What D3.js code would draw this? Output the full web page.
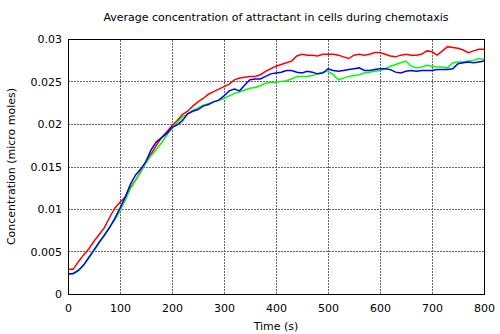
<!DOCTYPE html>
<html>
<head>
<meta charset="utf-8">
<script src="https://cdn.jsdelivr.net/npm/d3@7"></script>
<style>
    body { margin: 0; background: #fff; }
    text { font-family: "DejaVu Sans", sans-serif; }
</style>
</head>
<body>
<script>
// ================================================================================================
// Data (time every 10 s)

var times = d3.range(0, 801, 10);

var red_values = [
    0.0029, 0.0029, 0.0038, 0.0046, 0.0053, 0.0062, 0.0070, 0.0078, 0.0090, 0.0101,
    0.0108, 0.0114, 0.0125, 0.0134, 0.0144, 0.0155, 0.0165, 0.0175, 0.0184, 0.0191,
    0.0198, 0.0204, 0.0211, 0.0215, 0.0221, 0.0226, 0.0230, 0.0235, 0.0238, 0.0241,
    0.0244, 0.0247, 0.0252, 0.0254, 0.0255, 0.0256, 0.0256, 0.0258, 0.0262, 0.0265,
    0.0268, 0.0270, 0.0272, 0.0274, 0.0280, 0.0282, 0.0281, 0.0281, 0.0280, 0.0282,
    0.0282, 0.0282, 0.0281, 0.0279, 0.0277, 0.0281, 0.0282, 0.0281, 0.0282, 0.0284,
    0.0284, 0.0282, 0.0280, 0.0279, 0.0281, 0.0282, 0.0281, 0.0281, 0.0282, 0.0286,
    0.0285, 0.0281, 0.0286, 0.0291, 0.0290, 0.0289, 0.0287, 0.0284, 0.0286, 0.0288,
    0.0288
];

var green_values = [
    0.00235, 0.00238, 0.0027, 0.0034, 0.0042, 0.0051, 0.0060, 0.0070, 0.0079, 0.0087,
    0.0098, 0.0110, 0.0124, 0.0134, 0.0145, 0.0154, 0.0163, 0.0170, 0.0178, 0.0187,
    0.0195, 0.0202, 0.0208, 0.0212, 0.0216, 0.0219, 0.0222, 0.0224, 0.0226, 0.0228,
    0.0230, 0.0233, 0.0236, 0.0238, 0.0240, 0.0242, 0.0243, 0.0245, 0.0248, 0.0249,
    0.0249, 0.0250, 0.0251, 0.0253, 0.0256, 0.0256, 0.0256, 0.0257, 0.0259, 0.0261,
    0.0262, 0.0258, 0.0252, 0.0254, 0.0256, 0.0257, 0.0258, 0.0260, 0.0261, 0.0262,
    0.0263, 0.0265, 0.0268, 0.0270, 0.0272, 0.0274, 0.0268, 0.0266, 0.0267, 0.0269,
    0.0268, 0.0267, 0.0267, 0.0266, 0.0272, 0.0273, 0.0273, 0.0274, 0.0275, 0.0277,
    0.0276
];

var blue_values = [
    0.00235, 0.0024, 0.0028, 0.0034, 0.0043, 0.0052, 0.0061, 0.0069, 0.0078, 0.0089,
    0.0101, 0.0114, 0.0129, 0.0140, 0.0147, 0.0156, 0.0170, 0.0179, 0.0184, 0.0189,
    0.0196, 0.0199, 0.0204, 0.0212, 0.0215, 0.0217, 0.0221, 0.0223, 0.0226, 0.0228,
    0.0233, 0.0239, 0.0241, 0.0239, 0.0246, 0.0252, 0.0253, 0.0253, 0.0256, 0.0259,
    0.0260, 0.0261, 0.0263, 0.0263, 0.0261, 0.0260, 0.0262, 0.0261, 0.0259, 0.0260,
    0.0265, 0.0263, 0.0262, 0.0263, 0.0264, 0.0265, 0.0266, 0.0263, 0.0263, 0.0264,
    0.0265, 0.0265, 0.0264, 0.0261, 0.0260, 0.0262, 0.0263, 0.0262, 0.0263, 0.0263,
    0.0263, 0.0264, 0.0264, 0.0264, 0.0265, 0.0271, 0.0272, 0.0273, 0.0272, 0.0273,
    0.0274
];

var x_ticks = [0, 100, 200, 300, 400, 500, 600, 700, 800];
var y_ticks = [0, 0.005, 0.01, 0.015, 0.02, 0.025, 0.03];
var y_tick_labels = ['0', '0.005', '0.01', '0.015', '0.02', '0.025', '0.03'];

var series = [
    { name : 'red', color : '#ff0000', values : red_values },
    { name : 'green', color : '#00ff00', values : green_values },
    { name : 'blue', color : '#0000ff', values : blue_values }
];

// ================================================================================================
// Chart

var width = 500, height = 334;
var margin = { left : 68, right : 16, top : 39, bottom : 40 };

var svg = d3.select('body').append('svg')
    .attr('width', width)
    .attr('height', height);

var x = d3.scaleLinear()
    .domain([0, 800])
    .range([margin.left, width - margin.right]);

var y = d3.scaleLinear()
    .domain([0, 0.03])
    .range([height - margin.bottom, margin.top]);

// Grid
var grid = svg.append('g')
    .attr('stroke', '#666')
    .attr('stroke-width', 1)
    .attr('stroke-dasharray', '2,1');

grid.selectAll('line.vx')
    .data(x_ticks.slice(1, -1))
    .enter().append('line')
    .attr('x1', function (d) { return Math.round(x(d)) + 0.5; })
    .attr('x2', function (d) { return Math.round(x(d)) + 0.5; })
    .attr('y1', y(0))
    .attr('y2', y(0.03));

grid.selectAll('line.hy')
    .data(y_ticks.slice(1, -1))
    .enter().append('line')
    .attr('y1', function (d) { return Math.round(y(d)) + 0.5; })
    .attr('y2', function (d) { return Math.round(y(d)) + 0.5; })
    .attr('x1', x(0))
    .attr('x2', x(800));

// Axes
var x_axis = d3.axisBottom(x)
    .tickValues(x_ticks)
    .tickSize(0)
    .tickPadding(10);

var y_axis = d3.axisLeft(y)
    .tickValues(y_ticks)
    .tickFormat(function (d, i) { return y_tick_labels[i]; })
    .tickSize(0)
    .tickPadding(6);

svg.append('g')
    .attr('transform', 'translate(0,' + y(0) + ')')
    .call(x_axis)
    .call(function (g) { g.select('.domain').remove(); })
    .selectAll('text')
    .attr('font-size', 11)
    .attr('fill', '#000');

svg.append('g')
    .attr('transform', 'translate(' + x(0) + ',0)')
    .call(y_axis)
    .call(function (g) { g.select('.domain').remove(); })
    .selectAll('text')
    .attr('font-size', 11)
    .attr('fill', '#000');

// Lines
var line = d3.line()
    .x(function (d, i) { return x(times[i]); })
    .y(function (d) { return y(d); });

svg.selectAll('path.series')
    .data(series)
    .enter().append('path')
    .attr('class', 'series')
    .attr('fill', 'none')
    .attr('stroke', function (d) { return d.color; })
    .attr('stroke-width', 1.5)
    .attr('d', function (d) { return line(d.values); });

// Border
svg.append('rect')
    .attr('x', x(0) + 0.5)
    .attr('y', y(0.03) + 0.5)
    .attr('width', x(800) - x(0))
    .attr('height', y(0) - y(0.03))
    .attr('fill', 'none')
    .attr('stroke', '#000')
    .attr('stroke-width', 1);

// Titles
svg.append('text')
    .attr('x', 276)
    .attr('y', 21)
    .attr('text-anchor', 'middle')
    .attr('font-size', 11)
    .text('Average concentration of attractant in cells during chemotaxis');

svg.append('text')
    .attr('x', 276)
    .attr('y', 330)
    .attr('text-anchor', 'middle')
    .attr('font-size', 11)
    .text('Time (s)');

svg.append('text')
    .attr('transform', 'translate(15,' + ((y(0) + y(0.03)) / 2) + ') rotate(-90)')
    .attr('text-anchor', 'middle')
    .attr('font-size', 11)
    .text('Concentration (micro moles)');
</script>
</body>
</html>
